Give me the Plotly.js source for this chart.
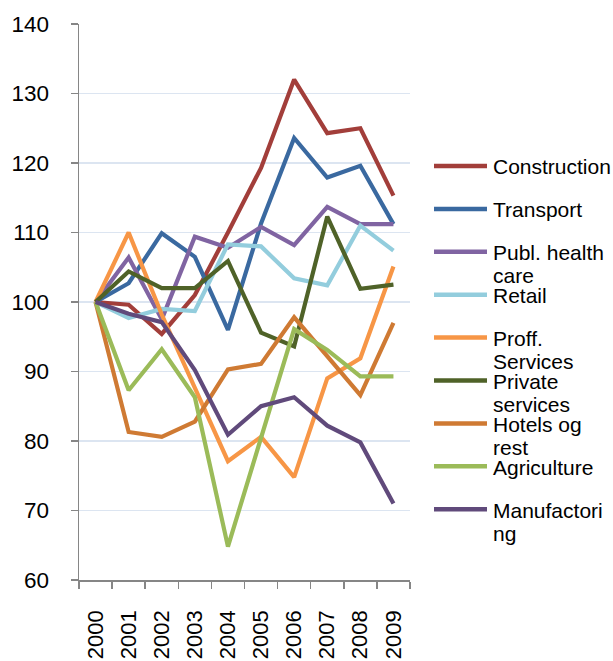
<!DOCTYPE html>
<html>
<head>
<meta charset="utf-8">
<script src="https://cdn.plot.ly/plotly-3.0.1.min.js"></script>
<style>html,body{margin:0;padding:0;background:#fff;}#chart{width:613px;height:661px;}</style>
</head>
<body>
<div id="chart"></div>
<script>
const years = ["2000","2001","2002","2003","2004","2005","2006","2007","2008","2009"];
const seriesNames = ["Construction","Transport","Publ. health care","Retail","Proff. Services","Private services","Hotels og rest","Agriculture","Manufactoring"];
const legendLines = [["Construction"],["Transport"],["Publ. health","care"],["Retail"],["Proff.","Services"],["Private","services"],["Hotels og","rest"],["Agriculture"],["Manufactori","ng"]];
const construction = [100, 99.6, 95.4, 101, 110, 119.3, 132, 124.3, 125, 115.3];
const transport = [100, 102.7, 109.9, 106.5, 96, 111.3, 123.6, 117.9, 119.6, 111.2];
const publHealth = [100, 106.4, 97.5, 109.4, 107.8, 110.8, 108.2, 113.7, 111.2, 111.2];
const retail = [100, 97.7, 99, 98.7, 108.3, 108, 103.4, 102.4, 111, 107.4];
const proffServices = [100, 110, 98.2, 87.5, 77.1, 80.6, 74.8, 89, 91.9, 105.1];
const privateServices = [100, 104.4, 102, 102, 105.9, 95.6, 93.6, 112.3, 101.9, 102.5];
const hotels = [100, 81.3, 80.6, 82.8, 90.3, 91.1, 97.8, 92.3, 86.6, 97];
const agriculture = [100, 87.3, 93.2, 86.3, 64.8, 80.7, 96.1, 93.1, 89.3, 89.3];
const manufacturing = [100, 98.3, 97.1, 90.2, 80.9, 85, 86.3, 82.2, 79.8, 71];
const yTicks = [60, 70, 80, 90, 100, 110, 120, 130, 140];

const allValues = [construction, transport, publHealth, retail, proffServices, privateServices, hotels, agriculture, manufacturing];
const colors = ["#A23E3A","#3A69A0","#8064A2","#93CDDD","#F79646","#4F6228","#CF7A33","#9BBB59","#604A7B"];

const traces = allValues.map((vals, i) => ({
  x: years, y: vals, type: "scatter", mode: "lines", name: seriesNames[i],
  line: {color: colors[i], width: 4.2, shape: "linear"}, showlegend: false, hoverinfo: "x+y+name"
}));

// custom legend (Excel-like wrapped labels)
const L = 79, R = 410, T = 24, B = 580;
const W = R - L, H = B - T;
const px2x = p => (p - L) / W;
const px2y = p => (B - p) / H;
const rowY0 = 166, rowStep = 42.9, lineGap = 23;
const shapes = [], annotations = [];
legendLines.forEach((lines, i) => {
  const cy = rowY0 + i * rowStep;
  shapes.push({type: "line", xref: "paper", yref: "paper", x0: px2x(434), x1: px2x(487), y0: px2y(cy), y1: px2y(cy),
    line: {color: colors[i], width: 4.5}});
  lines.forEach((t, j) => {
    annotations.push({xref: "paper", yref: "paper", x: px2x(491), y: px2y(cy + 1 + j * lineGap), xanchor: "left", yanchor: "middle",
      text: t, showarrow: false, font: {family: "Liberation Sans, Arial, sans-serif", size: 21, color: "#000"}});
  });
});

const layout = {
  width: 613, height: 661,
  margin: {l: L, r: 613 - R, t: T, b: 661 - B, pad: 0},
  paper_bgcolor: "#fff", plot_bgcolor: "#fff",
  font: {family: "Liberation Sans, Arial, sans-serif", size: 22, color: "#000"},
  xaxis: {type: "category", categoryarray: years, range: [-0.5, 9.5], tickangle: -90,
    showline: true, linecolor: "#868686", linewidth: 1.5, ticks: "outside", ticklen: 7, tickcolor: "#868686",
    tickwidth: 1.5, tickson: "boundaries", showgrid: false, zeroline: false, ticklabelstandoff: 20,
    tickfont: {size: 22}},
  yaxis: {range: [60, 140], tickvals: yTicks, ticktext: yTicks.map(String), showline: true, linecolor: "#868686", linewidth: 1.5,
    ticks: "outside", ticklen: 7, tickcolor: "#868686", tickwidth: 1.5, showgrid: true, gridcolor: "#DCE5F1", gridwidth: 1.2,
    zeroline: false, ticklabelstandoff: 17, tickfont: {size: 22.5}},
  shapes: shapes, annotations: annotations, showlegend: false
};
Plotly.newPlot("chart", traces, layout, {displayModeBar: false, staticPlot: true});
</script>
</body>
</html>
